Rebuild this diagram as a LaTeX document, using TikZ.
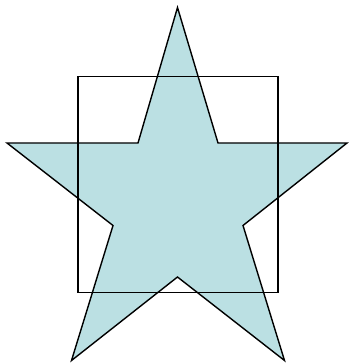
\documentclass[tikz,border=0pt]{standalone}
\begin{document}
\begin{tikzpicture}[x=1pt,y=-1pt,
  starshape/.style={draw=black,fill=starfill,line width=1.4pt,line join=miter},
  boxshape/.style={draw=black,line width=1.4pt}]
\definecolor{starfill}{RGB}{187,224,227}
\useasboundingbox (0,0) rectangle (348,363);
\coordinate (p1) at (177.5,7.5);
\coordinate (p2) at (218,143);
\coordinate (p3) at (347,143);
\coordinate (p4) at (243,225.5);
\coordinate (p5) at (284.5,360.5);
\coordinate (p6) at (177.5,277);
\coordinate (p7) at (71.5,360.5);
\coordinate (p8) at (113,225.5);
\coordinate (p9) at (7,143);
\coordinate (p10) at (138,143);
\draw[starshape] (p1) -- (p2) -- (p3) -- (p4) -- (p5) -- (p6) -- (p7) -- (p8) -- (p9) -- (p10) -- cycle;
\coordinate (r1) at (78,76.5);
\coordinate (r2) at (278,292.5);
\draw[boxshape] (r1) rectangle (r2);
\end{tikzpicture}
\end{document}
